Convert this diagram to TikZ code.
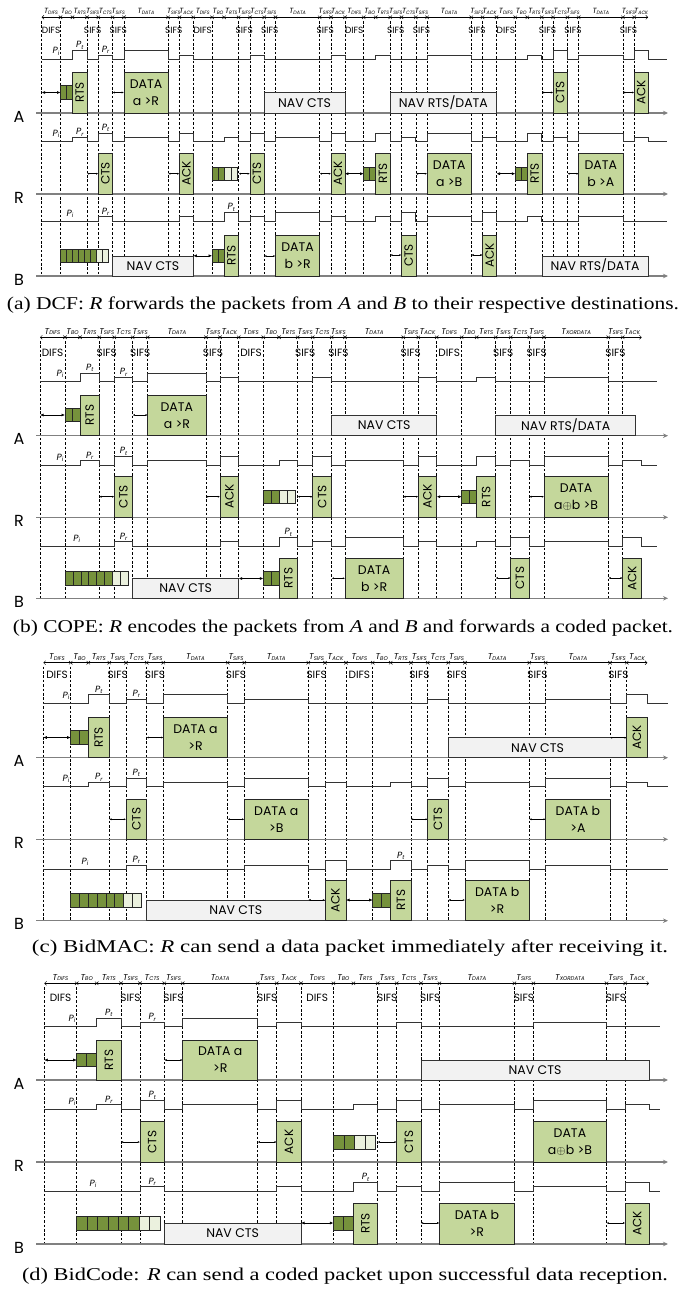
\documentclass[tikz,border=0pt]{standalone}
\usepackage{fontspec}
\usepackage{graphicx}
\setmainfont{Liberation Serif}
\newfontfamily\gothic{Poppins}
\usetikzlibrary{arrows.meta}
\definecolor{boxg}{HTML}{C4D79B}
\definecolor{qdark}{HTML}{76923C}
\definecolor{qlight}{HTML}{EBF1DE}
\definecolor{navg}{HTML}{F2F2F2}
\newcommand\fs[1]{\fontsize{#1}{#1}\selectfont}
\def\tsfs{5.4}
\newcommand\tsub[1]{\raisebox{-0.9pt}{\fs{\tsfs}#1}}
\newcommand\psub[1]{\raisebox{-1.2pt}{\fs{5.8}#1}}
\def\ilfs{10.5}
\def\tlfs{8.5}
\tikzset{
 pwr/.style={draw=black!80, line width=0.7pt},
 axl/.style={draw=black!50, line width=1.1pt, -{Stealth[length=5pt,width=4.5pt]}},
 dsh/.style={draw=black, line width=0.55pt, dash pattern=on 2.6pt off 1.8pt},
 pbox/.style={draw=black!85, fill=boxg, line width=0.6pt, inner sep=0pt, outer sep=0pt, align=center, font=\gothic\fontsize{12.5}{17}\selectfont},
 navbox/.style={draw=black!80, fill=navg, line width=0.6pt, inner sep=0pt, outer sep=0pt, font=\gothic\fs{12.5}},
 rtxt/.style={rotate=90, font=\gothic\fs{12}, inner sep=0pt},
 qcell/.style={draw=black!85, line width=0.6pt},
 dbl/.style={line width=0.6pt, {Latex[length=3.5pt,width=3pt]}-{Latex[length=3.5pt,width=3pt]}},
 sar/.style={line width=0.5pt, {Latex[length=2.2pt,width=2pt]}-{Latex[length=2.2pt,width=2pt]}},
 tax/.style={line width=0.45pt, {Straight Barb[length=2pt,width=4pt]}-{Straight Barb[length=2pt,width=4pt]}},
 tlab/.style={font=\gothic\itshape\fs{\tlfs}, inner sep=0pt, anchor=base},
 ilab/.style={font=\gothic\fs{\ilfs}, inner sep=0pt, anchor=base},
 plab/.style={font=\gothic\itshape\fs{9}, inner sep=0pt, anchor=base},
 stn/.style={font=\gothic\fs{16}, inner sep=0pt},
 captxt/.style={font=\fs{18}, inner sep=0pt},
}
\newcommand\capfit[2]{\resizebox{#1}{\height}{#2}}
% power line: base y, start x, list x/level
\newcommand\pw[3]{\draw[pwr] (#2,#1) foreach \x/\lv [remember=\x as \px (initially #2)] in {#3} { -- (\px,{#1-\lv*4.3}) -- (\x,{#1-\lv*4.3}) };}
% dashed lines
\newcommand\dl[3]{\foreach \x in {#3}{\draw[dsh] (\x,#1) -- (\x,#2);}}
% interval labels
\newcommand\ilabs[2]{\foreach \pa/\pb/\lbt in {#2}{\node[ilab] at ({(\pa+\pb)/2},#1) {\lbt};}}
% time axis
\newcommand\taxis[4]{%
 \draw[tax] (#2,#1) -- (#3,#1);
 \foreach \x/\lbt [remember=\x as \px (initially #2)] in {#4}{
   \node[tlab] at ({(\px+\x)/2},{#1-3.3}) {T\tsub{\lbt}};
   \pgfmathtruncatemacro\isin{\x<#3-0.5}
   \ifnum\isin=1 \draw[line width=0.45pt] ({\x-1.7},{#1-1.7}) -- ({\x+1.7},{#1+1.7}) ({\x-1.7},{#1+1.7}) -- ({\x+1.7},{#1-1.7});\fi
 }}
% box node
\newcommand\bx[7]{%
 \pgfmathsetmacro\bxc{(#3+#4)/2}\pgfmathsetmacro\byc{(#5+#6)/2}%
 \pgfmathsetmacro\bw{#4-#3}\pgfmathsetmacro\bh{#6-#5}%
 \node[#2,minimum width=\bw pt,minimum height=\bh pt] (#1) at (\bxc,\byc) {#7};}
\newcommand\vbx[6]{\bx{#1}{pbox}{#2}{#3}{#4}{#5}{}\node[rtxt] (#1t) at (#1.center) {#6};}
% queue: x1, cell width, n dark, n light, ytop, ybot
\newcommand\queue[6]{%
 \pgfmathtruncatemacro\qn{#3+#4}%
 \foreach \i in {1,...,\qn}{
   \pgfmathtruncatemacro\isd{\i<#3+0.5}
   \ifnum\isd=1 \def\qc{qdark}\else\def\qc{qlight}\fi
   \draw[qcell, fill=\qc] ({#1+(\i-1)*#2},#5) rectangle ({#1+\i*#2},#6);
 }}
\begin{document}
\begin{tikzpicture}[x=1pt,y=-1pt]
\useasboundingbox (0,0) rectangle (689,1290);
%================ PANEL A ================
\def\tlfs{7.5}\def\tsfs{4.8}
\taxis{17.3}{41.7}{648.1}{60.5/DIFS, 72.5/BO, 87.0/RTS, 98.3/SIFS, 112.6/CTS, 123.9/SIFS, 168.1/DATA, 179.4/SIFS, 193.3/ACK, 212.1/DIFS, 224.1/BO, 238.6/RTS, 249.9/SIFS, 264.2/CTS, 275.5/SIFS, 319.7/DATA, 331.0/SIFS, 344.9/ACK, 363.7/DIFS, 375.7/BO, 390.2/RTS, 401.5/SIFS, 415.8/CTS, 427.1/SIFS, 471.3/DATA, 482.6/SIFS, 496.5/ACK, 515.3/DIFS, 527.3/BO, 541.8/RTS, 553.1/SIFS, 567.4/CTS, 578.7/SIFS, 622.9/DATA, 634.2/SIFS, 648.1/ACK}
\def\tlfs{8.5}\def\tsfs{5.4}
\def\ilfs{9}
\ilabs{34}{41.7/60.5/DIFS, 87.0/98.3/SIFS, 112.6/123.9/SIFS, 168.1/179.4/SIFS, 193.3/212.1/DIFS, 238.6/249.9/SIFS, 264.2/275.5/SIFS, 319.7/331.0/SIFS, 344.9/363.7/DIFS, 390.2/401.5/SIFS, 415.8/427.1/SIFS, 471.3/482.6/SIFS, 496.5/515.3/DIFS, 541.8/553.1/SIFS, 567.4/578.7/SIFS, 622.9/634.2/SIFS}
\dl{21}{276}{41.7,60.5,87.0,98.3,112.6,123.9,168.1,179.4,193.3,212.1,238.6,249.9,264.2,275.5,319.7,331.0,344.9,363.7,390.2,401.5,415.8,427.1,471.3,482.6,496.5,515.3,541.8,553.1,567.4,578.7,622.9,634.2}
\draw[axl] (36,113) -- (668,113);
\draw[axl] (36,194) -- (668,194);
\draw[axl] (36,276) -- (668,276);
\pw{59.3}{41.7}{72.5/0, 87.0/2, 98.3/0, 112.6/1, 123.9/0, 168.1/2, 179.4/0, 193.3/1, 249.9/0, 264.2/1, 331.0/0, 344.9/1, 375.7/0, 390.2/1, 427.1/0, 471.3/1, 527.3/0, 541.8/1, 553.1/0, 567.4/2, 578.7/0, 622.9/1, 634.2/0, 648.1/2, 667/0}
\pw{141.7}{41.7}{72.5/0, 87.0/1, 98.3/0, 112.6/2, 123.9/0, 168.1/1, 179.4/0, 193.3/2, 224.1/0, 238.6/1, 249.9/0, 264.2/2, 275.5/0, 319.7/1, 331.0/0, 344.9/2, 375.7/0, 390.2/2, 401.5/0, 415.8/1, 427.1/0, 471.3/2, 482.6/0, 496.5/1, 527.3/0, 541.8/2, 553.1/0, 567.4/1, 578.7/0, 622.9/2, 634.2/0, 648.1/1, 667/0}
\pw{221}{41.7}{98.3/0, 112.6/1, 179.4/0, 193.3/1, 224.1/0, 238.6/2, 249.9/0, 264.2/1, 275.5/0, 319.7/2, 331.0/0, 344.9/1, 375.7/0, 390.2/1, 401.5/0, 415.8/2, 427.1/0, 471.3/1, 482.6/0, 496.5/2, 527.3/0, 541.8/1, 578.7/0, 622.9/1, 667/0}
\node[plab] (aPa1) at (56,54) {P\psub{i}};
\node[plab] (aPa2) at (79.8,48) {P\psub{t}};
\node[plab] (aPa3) at (105.5,52.5) {P\psub{r}};
\node[plab] (aPr1) at (56,136.7) {P\psub{i}};
\node[plab] (aPr2) at (79.8,134.9) {P\psub{r}};
\node[plab] (aPr3) at (105.5,130.6) {P\psub{t}};
\node[plab] (aPb1) at (70,216) {P\psub{i}};
\node[plab] (aPb2) at (105.5,214.2) {P\psub{r}};
\node[plab] (aPb3) at (231.4,209.9) {P\psub{t}};
% A row
\draw[dbl] (41.7,92.5) -- (60.5,92.5);
\queue{60.5}{6}{2}{0}{85.5}{99.5}
\vbx{aA1}{72.5}{87.0}{72}{113}{RTS}
\draw[sar] (112.6,92.5) -- (123.9,92.5);
\bx{aA2}{pbox}{123.9}{168.1}{72}{113}{DATA\\a >R}
\bx{aA3}{navbox}{264.2}{344.9}{92.7}{113}{NAV CTS}
\bx{aA4}{navbox}{390.2}{496.5}{92.7}{113}{NAV RTS/DATA}
\draw[sar] (541.8,92.5) -- (553.1,92.5);
\vbx{aA5}{553.1}{567.4}{72}{113}{CTS}
\draw[sar] (622.9,92.5) -- (634.2,92.5);
\vbx{aA6}{634.2}{648.1}{72}{113}{ACK}
% R row
\draw[sar] (87.0,173.7) -- (98.3,173.7);
\vbx{aR1}{98.3}{112.6}{153}{194}{CTS}
\draw[sar] (168.1,173.7) -- (179.4,173.7);
\vbx{aR2}{179.4}{193.3}{153}{194}{ACK}
\queue{212.1}{6.25}{2}{2}{167}{180.5}
\draw[sar] (238.6,173.7) -- (249.9,173.7);
\vbx{aR3}{249.9}{264.2}{153}{194}{CTS}
\draw[sar] (319.7,173.7) -- (331.0,173.7);
\vbx{aR4}{331.0}{344.9}{153}{194}{ACK}
\draw[dbl] (344.9,173.7) -- (363.7,173.7);
\queue{363.7}{6}{2}{0}{167}{180.5}
\vbx{aR5}{375.7}{390.2}{153}{194}{RTS}
\draw[sar] (415.8,173.7) -- (427.1,173.7);
\bx{aR6}{pbox}{427.1}{471.3}{153}{194}{DATA\\a >B}
\draw[dbl] (496.5,173.7) -- (515.3,173.7);
\queue{515.3}{6}{2}{0}{167}{180.5}
\vbx{aR7}{527.3}{541.8}{153}{194}{RTS}
\draw[sar] (567.4,173.7) -- (578.7,173.7);
\bx{aR8}{pbox}{578.7}{622.9}{153}{194}{DATA\\b >A}
% B row
\queue{60.5}{6}{6}{2}{249.3}{262.3}
\bx{aB1}{navbox}{112.6}{193.3}{256}{276}{NAV CTS}
\draw[dbl] (193.3,255.8) -- (212.1,255.8);
\queue{212.1}{6}{2}{0}{249.3}{262.3}
\vbx{aB2}{224.1}{238.6}{235}{276}{RTS}
\draw[sar] (264.2,256) -- (275.5,256);
\bx{aB3}{pbox}{275.5}{319.7}{235}{276}{DATA\\b >R}
\draw[sar] (390.2,255) -- (401.5,255);
\vbx{aB4}{401.5}{415.8}{235}{276}{CTS}
\draw[sar] (471.3,255) -- (482.6,255);
\vbx{aB5}{482.6}{496.5}{235}{276}{ACK}
\bx{aB6}{navbox}{541.8}{648.3}{256}{276}{NAV RTS/DATA}
\node[stn] (aSA) at (19,116.5) {A};
\node[stn] (aSR) at (19,197.5) {R};
\node[stn] (aSB) at (19,279.5) {B};
\node[captxt] (capa) at (343,305) {\capfit{672pt}{(a) DCF: \textit{R} forwards the packets from \textit{A} and \textit{B} to their respective destinations.}};
%================ PANEL B ================
\taxis{337.3}{40}{641.7}{65/DIFS, 80/BO, 99.3/RTS, 114.3/SIFS, 132.7/CTS, 147.7/SIFS, 206/DATA, 220/SIFS, 238.7/ACK, 263.3/DIFS, 279/BO, 297.7/RTS, 312.7/SIFS, 331.7/CTS, 345/SIFS, 403.3/DATA, 418.3/SIFS, 436.7/ACK, 461.7/DIFS, 476.7/BO, 495.7/RTS, 510.7/SIFS, 529.3/CTS, 544/SIFS, 608.3/XORDATA, 622.7/SIFS, 641.7/ACK}
\def\ilfs{10.5}
\ilabs{356}{40/65/DIFS, 99.3/114.3/SIFS, 132.7/147.7/SIFS, 206/220/SIFS, 238.7/263.3/DIFS, 297.7/312.7/SIFS, 331.7/345/SIFS, 403.3/418.3/SIFS, 436.7/461.7/DIFS, 495.7/510.7/SIFS, 529.3/544/SIFS, 608.3/622.7/SIFS}
\dl{341}{598.3}{40,65,99.3,114.3,132.7,147.7,206,220,238.7,263.3,297.7,312.7,331.7,345,403.3,418.3,436.7,461.7,495.7,510.7,529.3,544,608.3,622.7}
\draw[axl] (36,435.7) -- (668,435.7);
\draw[axl] (36,517.3) -- (668,517.3);
\draw[axl] (36,598.3) -- (668,598.3);
\pw{381.7}{40}{80/0, 99.3/2, 114.3/0, 132.7/1, 147.7/0, 206/2, 220/0, 238.7/1, 312.7/0, 331.7/1, 418.3/0, 436.7/1, 476.7/0, 495.7/1, 544/0, 608.3/1, 656.7/0}
\pw{465}{40}{80/0, 99.3/1, 114.3/0, 132.7/2, 147.7/0, 206/1, 220/0, 238.7/2, 279/0, 297.7/1, 312.7/0, 331.7/2, 345/0, 403.3/1, 418.3/0, 436.7/2, 476.7/0, 495.7/2, 510.7/0, 529.3/1, 544/0, 608.3/2, 622.7/0, 641.7/1, 656.7/0}
\pw{546}{40}{114.3/0, 132.7/1, 220/0, 238.7/1, 279/0, 297.7/2, 312.7/0, 331.7/1, 345/0, 403.3/2, 418.3/0, 436.7/1, 476.7/0, 495.7/1, 510.7/0, 529.3/2, 544/0, 608.3/1, 622.7/0, 641.7/2, 656.7/0}
\node[plab] (bPa1) at (60,376.7) {P\psub{i}};
\node[plab] (bPa2) at (89.7,370.6) {P\psub{t}};
\node[plab] (bPa3) at (123.5,374.9) {P\psub{r}};
\node[plab] (bPr1) at (60,460) {P\psub{i}};
\node[plab] (bPr2) at (89.7,458.2) {P\psub{r}};
\node[plab] (bPr3) at (123.5,453.9) {P\psub{t}};
\node[plab] (bPb1) at (76.7,541) {P\psub{i}};
\node[plab] (bPb2) at (123.5,539.2) {P\psub{r}};
\node[plab] (bPb3) at (288.4,534.9) {P\psub{t}};
% A row
\draw[dbl] (40,415) -- (65,415);
\queue{65}{7.5}{2}{0}{408.3}{421.7}
\vbx{bA1}{80}{99.3}{395}{435.7}{RTS}
\draw[sar] (132.7,415) -- (147.7,415);
\bx{bA2}{pbox}{147.7}{206}{395}{435.7}{DATA\\a >R}
\bx{bA3}{navbox}{331.7}{436.7}{415}{435.7}{NAV CTS}
\bx{bA4}{navbox}{495.7}{635.7}{415}{435.7}{NAV RTS/DATA}
% R row
\draw[sar] (99.3,496.7) -- (114.3,496.7);
\vbx{bR1}{114.3}{132.7}{476}{517.3}{CTS}
\draw[sar] (206,496.7) -- (220,496.7);
\vbx{bR2}{220}{238.7}{476}{517.3}{ACK}
\queue{263.3}{7.9}{2}{2}{490}{503.3}
\draw[sar] (297.7,496.7) -- (312.7,496.7);
\vbx{bR3}{312.7}{331.7}{476}{517.3}{CTS}
\draw[sar] (403.3,496.7) -- (418.3,496.7);
\vbx{bR4}{418.3}{436.7}{476}{517.3}{ACK}
\draw[dbl] (436.7,496.7) -- (461.7,496.7);
\queue{461.7}{7.5}{2}{0}{490}{503.3}
\vbx{bR5}{476.7}{495.7}{476}{517.3}{RTS}
\draw[sar] (529.3,496.7) -- (544,496.7);
\bx{bR6}{pbox}{544}{608.3}{476}{517.3}{DATA\\a$\oplus$b >B}
% B row
\queue{65}{7.9}{6}{2}{571.7}{585.7}
\bx{bB1}{navbox}{132.7}{238.7}{578.3}{598.3}{NAV CTS}
\draw[dbl] (238.7,578.5) -- (263.3,578.5);
\queue{263.3}{7.85}{2}{0}{571.7}{585.7}
\vbx{bB2}{279}{297.7}{558.3}{598.3}{RTS}
\draw[sar] (331.7,578.3) -- (345,578.3);
\bx{bB3}{pbox}{345}{403.3}{558.3}{598.3}{DATA\\b >R}
\draw[sar] (495.7,578) -- (510.7,578);
\vbx{bB4}{510.7}{529.3}{558.3}{598.3}{CTS}
\draw[sar] (608.3,578) -- (622.7,578);
\vbx{bB5}{622.7}{641.7}{558.3}{598.3}{ACK}
\node[stn] (bSA) at (19,439) {A};
\node[stn] (bSR) at (19,520.5) {R};
\node[stn] (bSB) at (19,601.5) {B};
\node[captxt] (capb) at (343,628) {\capfit{660pt}{(b) COPE: \textit{R} encodes the packets from \textit{A} and \textit{B} and forwards a coded packet.}};
%================ PANEL C ================
\taxis{662.7}{43.3}{647.3}{70.7/DIFS, 88.3/BO, 109.3/RTS, 126/SIFS, 146.7/CTS, 163.3/SIFS, 227.7/DATA, 244.3/SIFS, 308.3/DATA, 325/SIFS, 346/ACK, 372.7/DIFS, 390.7/BO, 411/RTS, 427.7/SIFS, 448.3/CTS, 465/SIFS, 529.3/DATA, 545.7/SIFS, 610/DATA, 626.7/SIFS, 647.3/ACK}
\ilabs{678.3}{43.3/70.7/DIFS, 109.3/126/SIFS, 146.7/163.3/SIFS, 227.7/244.3/SIFS, 308.3/325/SIFS, 346/372.7/DIFS, 411/427.7/SIFS, 448.3/465/SIFS, 529.3/545.7/SIFS, 610/626.7/SIFS}
\dl{666.5}{920.7}{43.3,70.7,109.3,126,146.7,163.3,227.7,244.3,308.3,325,346,372.7,411,427.7,448.3,465,529.3,545.7,610,626.7}
\draw[axl] (36,757.7) -- (668,757.7);
\draw[axl] (36,839.3) -- (668,839.3);
\draw[axl] (36,920.7) -- (668,920.7);
\pw{703.3}{43.3}{88.3/0, 109.3/2, 126/0, 146.7/1, 163.3/0, 227.7/2, 244.3/0, 308.3/1, 427.7/0, 448.3/1, 545.7/0, 610/1, 626.7/0, 647.3/2, 668/0}
\pw{786.7}{43.3}{88.3/0, 109.3/1, 126/0, 146.7/2, 163.3/0, 227.7/1, 244.3/0, 308.3/2, 325/0, 346/1, 390.7/0, 411/1, 427.7/0, 448.3/2, 465/0, 529.3/1, 545.7/0, 610/2, 626.7/0, 647.3/1, 668/0}
\pw{869.3}{43.3}{126/0, 146.7/1, 244.3/0, 308.3/1, 325/0, 346/2, 390.7/0, 411/2, 427.7/0, 448.3/1, 465/0, 529.3/2, 545.7/0, 610/1, 668/0}
\node[plab] (cPa1) at (66,698.3) {P\psub{i}};
\node[plab] (cPa2) at (98.8,692.2) {P\psub{t}};
\node[plab] (cPa3) at (136.4,696.5) {P\psub{r}};
\node[plab] (cPr1) at (66,781.7) {P\psub{i}};
\node[plab] (cPr2) at (98.8,779.9) {P\psub{r}};
\node[plab] (cPr3) at (136.4,775.6) {P\psub{t}};
\node[plab] (cPb1) at (85,864.3) {P\psub{i}};
\node[plab] (cPb2) at (136.4,862.5) {P\psub{r}};
\node[plab] (cPb3) at (400.9,858.2) {P\psub{t}};
% A row
\draw[dbl] (43.3,737.5) -- (70.7,737.5);
\queue{70.7}{8.8}{2}{0}{730.7}{744.3}
\vbx{cA1}{88.3}{109.3}{717.3}{757.7}{RTS}
\draw[sar] (146.7,737.5) -- (163.3,737.5);
\bx{cA2}{pbox}{163.3}{227.7}{717.3}{757.7}{DATA a\\>R}
\bx{cA3}{navbox}{448.3}{626.7}{737.7}{757.7}{NAV CTS}
\draw[sar] (610,737.7) -- (626.7,737.7);
\vbx{cA4}{626.7}{647.3}{717.3}{757.7}{ACK}
% R row
\draw[sar] (109.3,819.3) -- (126,819.3);
\vbx{cR1}{126}{146.7}{799.3}{839.3}{CTS}
\draw[sar] (227.7,819.3) -- (244.3,819.3);
\bx{cR2}{pbox}{244.3}{308.3}{799.3}{839.3}{DATA a\\>B}
\draw[sar] (411,819.3) -- (427.7,819.3);
\vbx{cR3}{427.7}{448.3}{799.3}{839.3}{CTS}
\draw[sar] (529.3,819.3) -- (545.7,819.3);
\bx{cR4}{pbox}{545.7}{610}{799.3}{839.3}{DATA b\\>A}
% B row
\queue{70.7}{8.8}{6}{2}{893.3}{907.3}
\bx{cB1}{navbox}{146.7}{325}{900}{920.7}{NAV CTS}
\draw[sar] (308.3,900) -- (325,900);
\vbx{cB2}{325}{346}{880}{920.7}{ACK}
\draw[dbl] (346,900) -- (372.7,900);
\queue{372.7}{9}{2}{0}{893.3}{907.3}
\vbx{cB3}{390.7}{411}{880}{920.7}{RTS}
\draw[sar] (448.3,900) -- (465,900);
\bx{cB4}{pbox}{465}{529.3}{880}{920.7}{DATA b\\>R}
\node[stn] (cSA) at (19,761) {A};
\node[stn] (cSR) at (19,842.5) {R};
\node[stn] (cSB) at (19,924) {B};
\node[captxt] (capc) at (350,948) {\capfit{636pt}{(c) BidMAC: \textit{R} can send a data packet immediately after receiving it.}};
%================ PANEL D ================
\taxis{983.3}{44.3}{649}{76.7/DIFS, 96.7/BO, 121/RTS, 140/SIFS, 164.3/CTS, 182.7/SIFS, 257.7/DATA, 276.7/SIFS, 301/ACK, 333.4/DIFS, 353.4/BO, 377.7/RTS, 396.7/SIFS, 421/CTS, 439.4/SIFS, 514.4/DATA, 533.4/SIFS, 606.5/XORDATA, 625.2/SIFS, 649/ACK}
\ilabs{1001.7}{44.3/76.7/DIFS, 121/140/SIFS, 164.3/182.7/SIFS, 257.7/276.7/SIFS, 301/333.4/DIFS, 377.7/396.7/SIFS, 421/439.4/SIFS, 514.4/533.4/SIFS, 606.5/625.2/SIFS}
\dl{987}{1244}{44.3,76.7,121,140,164.3,182.7,257.7,276.7,301,333.4,377.7,396.7,421,439.4,514.4,533.4,606.5,625.2}
\draw[axl] (36,1080) -- (668,1080);
\draw[axl] (36,1162) -- (668,1162);
\draw[axl] (36,1244) -- (668,1244);
\pw{1026.7}{44.3}{96.7/0, 121/2, 140/0, 164.3/1, 182.7/0, 257.7/2, 276.7/0, 301/1, 396.7/0, 421/1, 533.4/0, 606.5/1, 660/0}
\pw{1109}{44.3}{96.7/0, 121/1, 140/0, 164.3/2, 182.7/0, 257.7/1, 276.7/0, 301/2, 353.4/0, 377.7/1, 396.7/0, 421/2, 439.4/0, 514.4/1, 533.4/0, 606.5/2, 625.2/0, 649/1, 660/0}
\pw{1191}{44.3}{140/0, 164.3/1, 276.7/0, 301/1, 353.4/0, 377.7/2, 396.7/0, 421/1, 439.4/0, 514.4/2, 533.4/0, 606.5/1, 625.2/0, 649/2, 660/0}
\node[plab] (dPa1) at (72,1021.7) {P\psub{i}};
\node[plab] (dPa2) at (108.9,1015.6) {P\psub{t}};
\node[plab] (dPa3) at (152.2,1019.9) {P\psub{r}};
\node[plab] (dPr1) at (72,1104) {P\psub{i}};
\node[plab] (dPr2) at (108.9,1102.2) {P\psub{r}};
\node[plab] (dPr3) at (152.2,1097.9) {P\psub{t}};
\node[plab] (dPb1) at (93,1186) {P\psub{i}};
\node[plab] (dPb2) at (152.2,1184.2) {P\psub{r}};
\node[plab] (dPb3) at (365.6,1179.9) {P\psub{t}};
% A row
\draw[dbl] (44.3,1060) -- (76.7,1060);
\queue{76.7}{10}{2}{0}{1053.3}{1066.7}
\vbx{dA1}{96.7}{121}{1040}{1080}{RTS}
\draw[sar] (164.3,1060) -- (182.7,1060);
\bx{dA2}{pbox}{182.7}{257.7}{1040}{1080}{DATA a\\>R}
\bx{dA3}{navbox}{421}{649}{1060}{1080}{NAV CTS}
% R row
\draw[sar] (121,1142) -- (140,1142);
\vbx{dR1}{140}{164.3}{1121.7}{1162}{CTS}
\draw[sar] (257.7,1142) -- (276.7,1142);
\vbx{dR2}{276.7}{301}{1121.7}{1162}{ACK}
\queue{333.4}{10.5}{2}{2}{1135}{1149}
\draw[sar] (377.7,1142) -- (396.7,1142);
\vbx{dR3}{396.7}{421}{1121.7}{1162}{CTS}
\bx{dR4}{pbox}{533.4}{606.5}{1121.7}{1162}{DATA\\a$\oplus$b >B}
% B row
\queue{76.7}{10.4}{6}{2}{1216.5}{1230.5}
\bx{dB1}{navbox}{164.3}{301}{1223}{1244}{NAV CTS}
\draw[dbl] (301,1223) -- (333.4,1223);
\queue{333.4}{10}{2}{0}{1216.5}{1230.5}
\vbx{dB2}{353.4}{377.7}{1203}{1244}{RTS}
\draw[sar] (421,1223) -- (439.4,1223);
\bx{dB3}{pbox}{439.4}{514.4}{1203}{1244}{DATA b\\>R}
\draw[sar] (606.5,1223) -- (625.2,1223);
\vbx{dB4}{625.2}{649}{1203}{1244}{ACK}
\node[stn] (dSA) at (19,1083.5) {A};
\node[stn] (dSR) at (19,1165.5) {R};
\node[stn] (dSB) at (19,1247.5) {B};
\node[captxt] (capd) at (345,1276) {\capfit{646pt}{(d) BidCode: \textit{R} can send a coded packet upon successful data reception.}};
\end{tikzpicture}
\end{document}
